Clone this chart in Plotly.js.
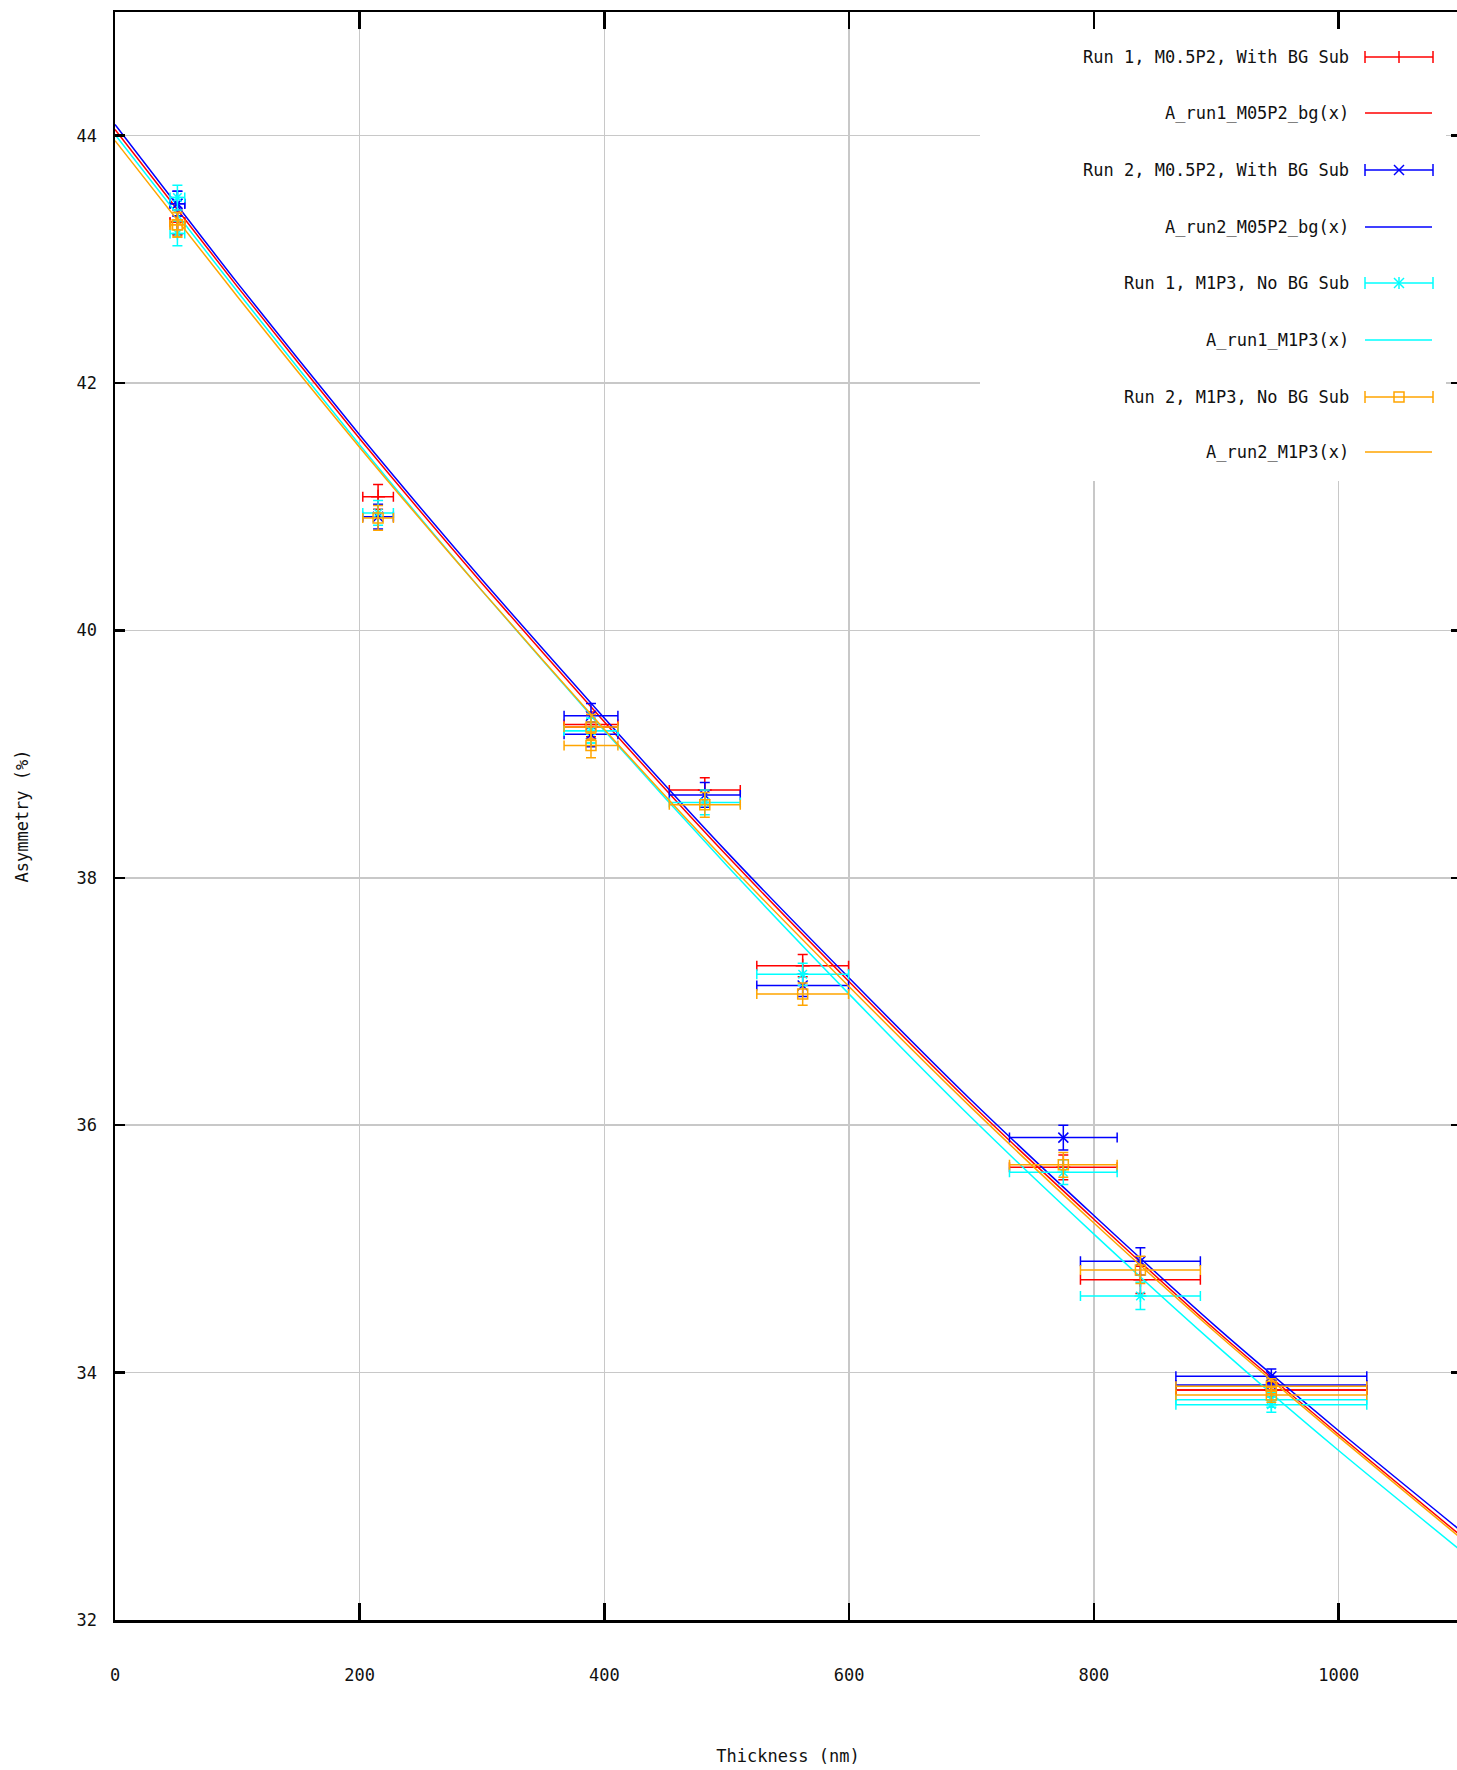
<!DOCTYPE html>
<html>
<head>
<meta charset="utf-8">
<script src="https://cdn.plot.ly/plotly-3.0.1.min.js"></script>
<style>
  html, body { margin: 0; padding: 0; background: #ffffff; overflow: hidden; }
  #chart { width: 1461px; height: 1770px; }
</style>
</head>
<body>
<div id="chart"></div>
<script>
// ---------------- DATA ----------------
const thickness    = [51, 51, 215, 389, 389, 482, 562, 775, 838, 945, 945];
const thicknessErr = [6, 6, 12.5, 22, 22, 29, 37.5, 44, 49, 78, 78];
const asymmetryErr = [0.1, 0.1, 0.1, 0.1, 0.1, 0.1, 0.09, 0.1, 0.11, 0.06, 0.06];

const run1M05P2 = [43.30, 43.30, 41.08, 39.24, 39.22, 38.71, 37.29, 35.66, 34.75, 33.86, 33.86];
const run2M05P2 = [43.45, 43.45, 40.92, 39.31, 39.16, 38.67, 37.13, 35.90, 34.90, 33.97, 33.90];
const run1M1P3  = [43.50, 43.21, 40.95, 39.19, 39.19, 38.61, 37.22, 35.62, 34.62, 33.78, 33.74];
const run2M1P3  = [43.28, 43.28, 40.91, 39.22, 39.07, 38.59, 37.06, 35.68, 34.83, 33.89, 33.82];

const fitX          = [0, 100, 200, 300, 400, 500, 600, 700, 800, 900, 1000, 1100];
const fitRun1M05P2  = [44.05, 42.78, 41.55, 40.38, 39.26, 38.18, 37.16, 36.17, 35.24, 34.34, 33.50, 32.68];
const fitRun2M05P2  = [44.09, 42.81, 41.58, 40.41, 39.29, 38.21, 37.19, 36.20, 35.27, 34.37, 33.53, 32.72];
const fitRun1M1P3   = [44.01, 42.74, 41.50, 40.32, 39.19, 38.10, 37.06, 36.06, 35.12, 34.22, 33.37, 32.56];
const fitRun2M1P3   = [43.96, 42.70, 41.48, 40.32, 39.20, 38.13, 37.12, 36.14, 35.21, 34.32, 33.48, 32.66];

const pointNames = ["Run 1, M0.5P2, With BG Sub", "Run 2, M0.5P2, With BG Sub",
                    "Run 1, M1P3, No BG Sub", "Run 2, M1P3, No BG Sub"];
const fitNames   = ["A_run1_M05P2_bg(x)", "A_run2_M05P2_bg(x)", "A_run1_M1P3(x)", "A_run2_M1P3(x)"];

const xTickVals = [0, 200, 400, 600, 800, 1000];
const yTickVals = [32, 34, 36, 38, 40, 42, 44];

// ---------------- STYLE ----------------
const colors  = ["#ff0000", "#0000ff", "#00ffff", "#ffa500"];
const symbols = ["cross-thin", "x-thin", "asterisk", "square-open"];
const legendMarks = ["plus", "x", "star", "square"];
const FONT = "DejaVu Sans Mono, Liberation Mono, monospace";
const TEXT = "#111111";

const pointSeries = [run1M05P2, run2M05P2, run1M1P3, run2M1P3];
const fitSeries   = [fitRun1M05P2, fitRun2M05P2, fitRun1M1P3, fitRun2M1P3];

const traces = [];
for (let i = 0; i < 4; i++) {
  traces.push({
    type: "scatter", mode: "markers", name: pointNames[i], showlegend: false,
    x: thickness, y: pointSeries[i],
    marker: { symbol: symbols[i], size: 10, color: colors[i], line: { color: colors[i], width: 1.5 } },
    error_x: { type: "data", array: thicknessErr, visible: true, color: colors[i], thickness: 1.5, width: 5 },
    error_y: { type: "data", array: asymmetryErr, visible: true, color: colors[i], thickness: 1.5, width: 5 },
    cliponaxis: true
  });
  traces.push({
    type: "scatter", mode: "lines", name: fitNames[i], showlegend: false,
    x: fitX, y: fitSeries[i],
    line: { color: colors[i], width: 1.5, shape: "spline", smoothing: 0.6 }
  });
}

// ---------------- LAYOUT ----------------
const W = 1461, H = 1770;
const ML = 115, MR = 0, MT = 12, MB = 150;
const plotL = ML, plotR = W - MR, plotT = MT, plotB = H - MB;
const px = v => (v - plotL) / (plotR - plotL);
const py = v => (plotB - v) / (plotB - plotT);

const shapes = [];
const annotations = [];

// legend box (hides grid lines only)
shapes.push({ type: "rect", xref: "paper", yref: "paper", layer: "above",
  x0: px(980), x1: px(1446), y0: py(481), y1: py(29),
  fillcolor: "#ffffff", line: { width: 0 } });

const rowY = [57, 113, 170, 227, 283, 340, 397, 452];
const sampleX0 = 1365, sampleX1 = 1433, markX = 1399;
const lineSeg = (x0, y0, x1, y1, c) => ({ type: "line", xref: "paper", yref: "paper", layer: "above",
  x0: px(x0), x1: px(x1), y0: py(y0), y1: py(y1), line: { color: c, width: 1.5 } });

for (let i = 0; i < 4; i++) {
  const c = colors[i];
  // error-bar entry
  let y = rowY[2 * i];
  annotations.push({ xref: "paper", yref: "paper", x: px(1351), y: py(y), xanchor: "right", yanchor: "middle",
    text: pointNames[i], showarrow: false, font: { family: FONT, size: 17, color: TEXT } });
  shapes.push(lineSeg(sampleX0, y, sampleX1, y, c));
  shapes.push(lineSeg(sampleX0, y - 6, sampleX0, y + 6, c));
  shapes.push(lineSeg(sampleX1, y - 6, sampleX1, y + 6, c));
  const m = legendMarks[i];
  if (m === "plus" || m === "star") shapes.push(lineSeg(markX, y - 6, markX, y + 6, c));
  if (m === "x" || m === "star") {
    shapes.push(lineSeg(markX - 5, y - 5, markX + 5, y + 5, c));
    shapes.push(lineSeg(markX - 5, y + 5, markX + 5, y - 5, c));
  }
  if (m === "square") shapes.push({ type: "rect", xref: "paper", yref: "paper", layer: "above",
    x0: px(markX - 5), x1: px(markX + 5), y0: py(y + 5), y1: py(y - 5),
    fillcolor: "rgba(0,0,0,0)", line: { color: c, width: 1.5 } });
  // fit-line entry
  y = rowY[2 * i + 1];
  annotations.push({ xref: "paper", yref: "paper", x: px(1351), y: py(y), xanchor: "right", yanchor: "middle",
    text: fitNames[i], showarrow: false, font: { family: FONT, size: 17, color: TEXT } });
  shapes.push(lineSeg(sampleX0, y, sampleX1 - 1, y, c));
}

const layout = {
  width: W, height: H,
  margin: { l: ML, r: MR, t: MT, b: MB, pad: 0 },
  paper_bgcolor: "#ffffff", plot_bgcolor: "#ffffff",
  font: { family: FONT, size: 17, color: TEXT },
  showlegend: false,
  xaxis: {
    range: [0, 1100], tickvals: xTickVals, ticktext: xTickVals.map(String),
    ticks: "inside", ticklen: 17, tickwidth: 2.5, tickcolor: "#000000",
    showline: true, linecolor: "#000000", linewidth: 2.5, mirror: "ticks",
    showgrid: true, gridcolor: "#c8c8c8", gridwidth: 1.5, zeroline: false,
    ticklabelstandoff: 38,
    tickfont: { family: FONT, size: 17, color: TEXT },
    title: { text: "Thickness (nm)", font: { family: FONT, size: 17, color: TEXT }, standoff: 66 }
  },
  yaxis: {
    range: [32, 45], tickvals: yTickVals, ticktext: yTickVals.map(String),
    ticks: "inside", ticklen: 10, tickwidth: 2.5, tickcolor: "#000000",
    showline: true, linecolor: "#000000", linewidth: 2.5, mirror: "ticks",
    showgrid: true, gridcolor: "#c8c8c8", gridwidth: 1.5, zeroline: false,
    ticklabelstandoff: 12,
    tickfont: { family: FONT, size: 17, color: TEXT },
    title: { text: "Asymmetry (%)", font: { family: FONT, size: 17, color: TEXT }, standoff: 44 }
  },
  shapes: shapes,
  annotations: annotations
};

Plotly.newPlot("chart", traces, layout, { staticPlot: true, displayModeBar: false });
</script>
</body>
</html>
